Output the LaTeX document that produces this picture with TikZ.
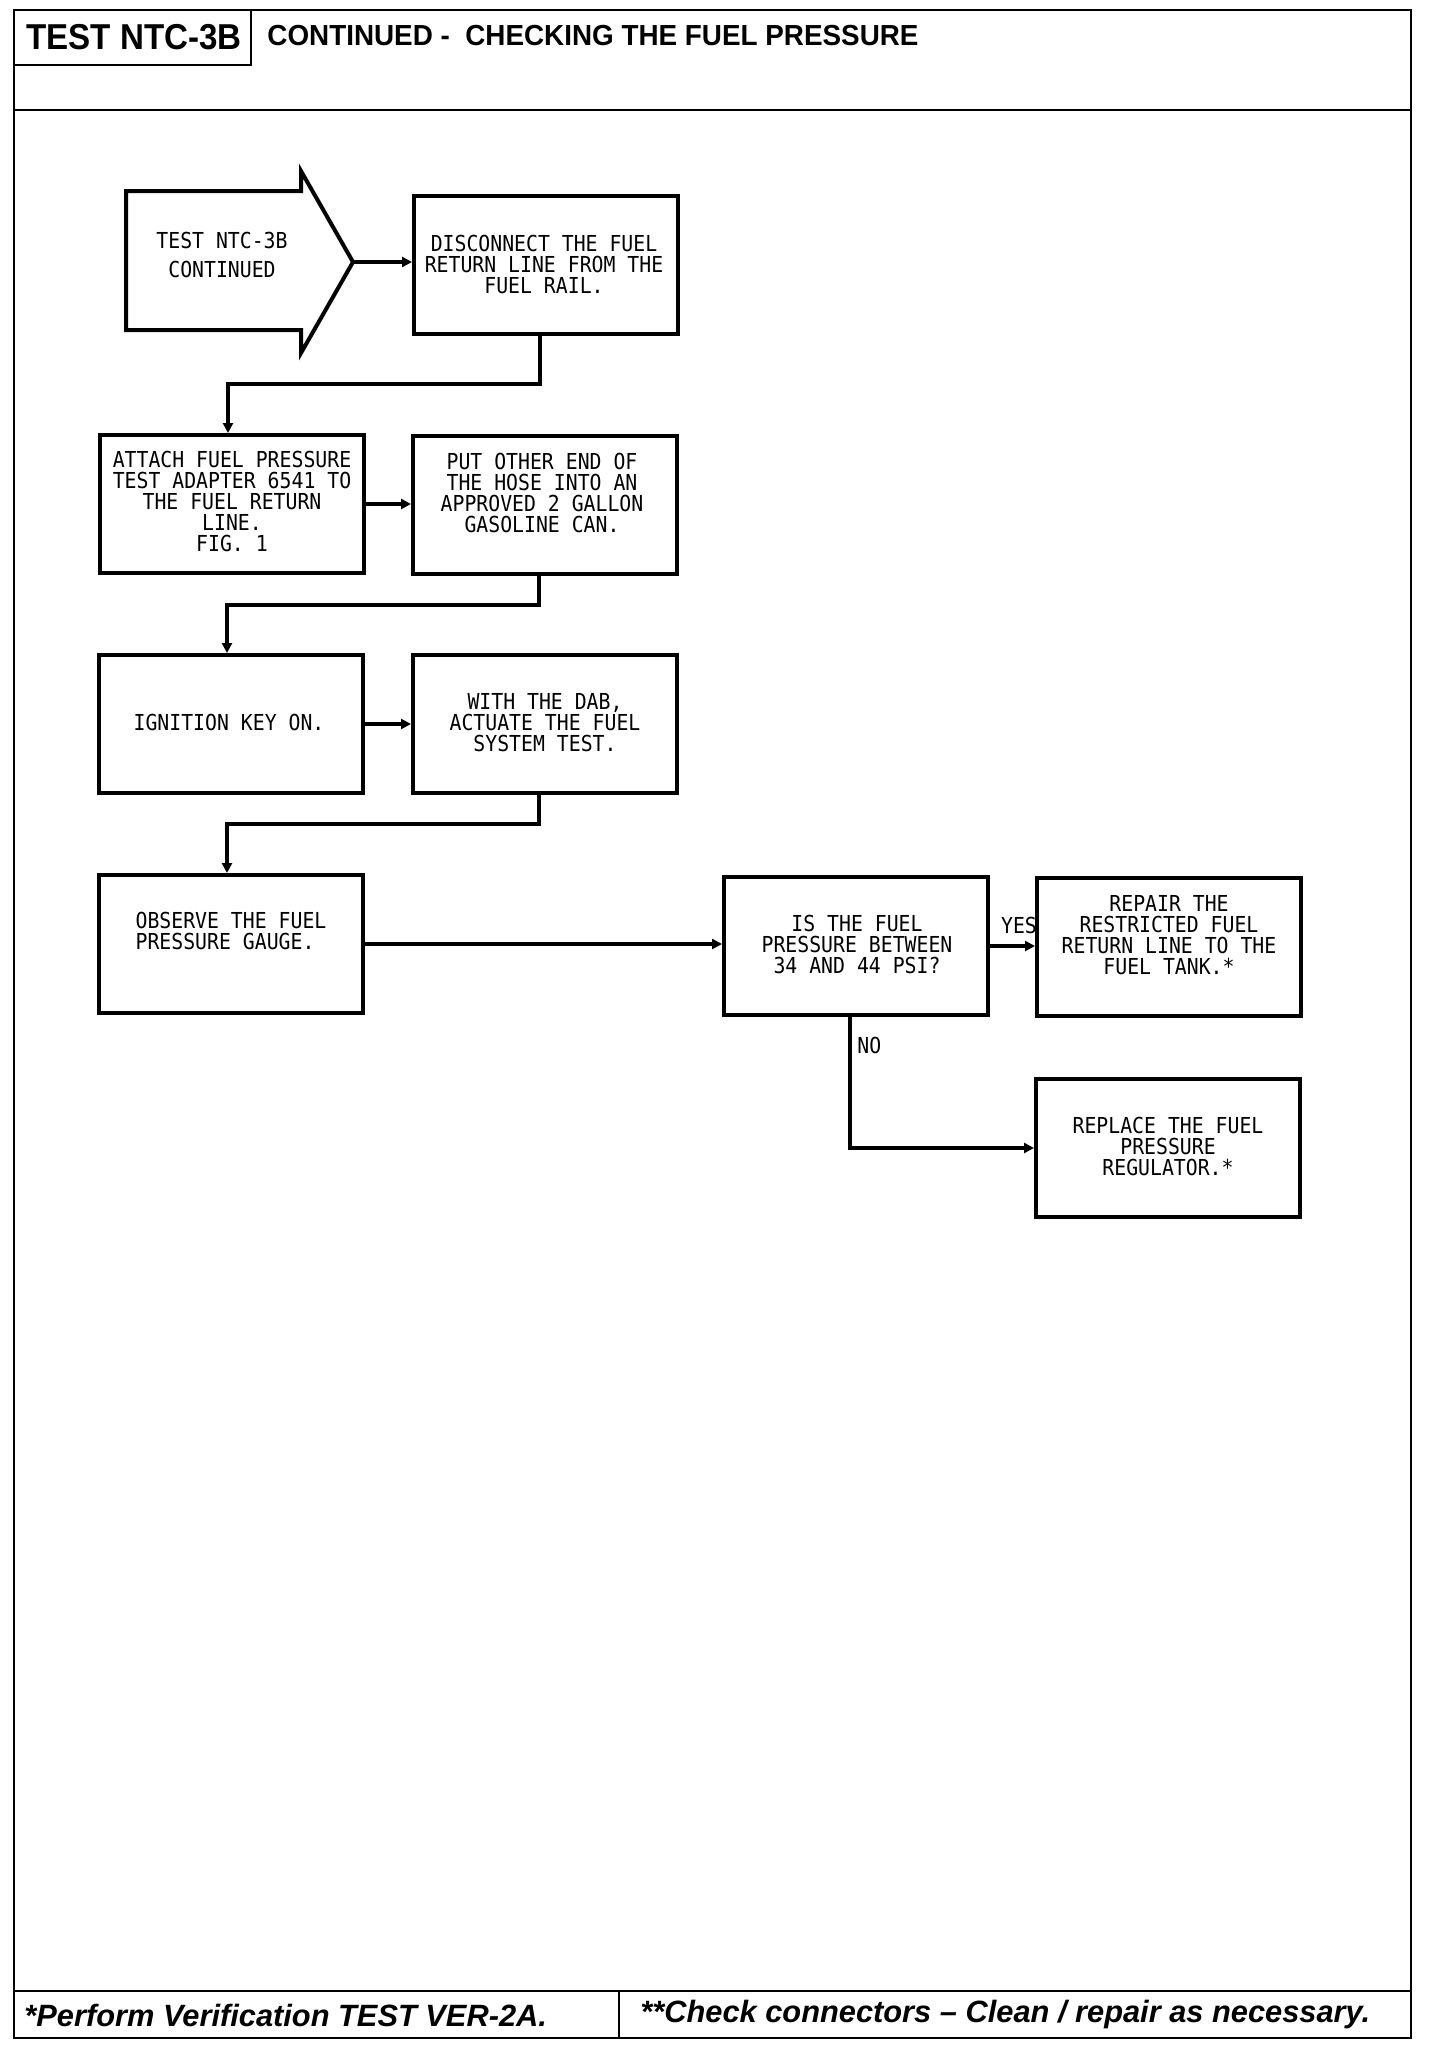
\documentclass[tikz,border=0pt]{standalone}
\usepackage{fontspec}
\setmainfont{Liberation Sans}
\newfontfamily\plotfont[FakeStretch=0.9]{DejaVu Sans Mono}
\newfontfamily\hdrfont[FakeStretch=0.92]{Liberation Sans}
\newfontfamily\ttlfont[FakeStretch=0.96]{Liberation Sans}
\usetikzlibrary{arrows.meta}
\tikzset{
  boxst/.style={draw, line width=2pt, minimum width=132pt, minimum height=69pt, inner sep=0pt},
  conn/.style={line width=1.8pt, -{Triangle[length=5pt,width=5pt]}},
  txt/.style={font=\plotfont\fontsize{11pt}{10.5pt}\selectfont, align=center, inner sep=0pt},
  frame/.style={line width=1.4pt},
}
\begin{document}
\begin{tikzpicture}[x=0.5pt,y=-0.5pt]
\useasboundingbox (0,0) rectangle (1440,2050);
% frame
\draw[frame] (14,10) rectangle (1411,2038);
\draw[frame] (14,110) -- (1411,110);
\draw[frame] (14,65) -- (251,65) -- (251,10);
\draw[frame] (14,1991) -- (1411,1991);
\draw[frame] (619,1991) -- (619,2038);
\node[inner sep=0pt, font=\hdrfont\bfseries\fontsize{18pt}{18pt}\selectfont] (ttl1) at (134,37) {TEST NTC-3B};
\node[inner sep=0pt, anchor=west, font=\ttlfont\bfseries\fontsize{14.5pt}{14.5pt}\selectfont] (ttl2) at (267,36) {CONTINUED -\ \ CHECKING THE FUEL PRESSURE};
\node[inner sep=0pt, anchor=west, font=\bfseries\itshape\fontsize{15.4pt}{15.4pt}\selectfont] (ft1) at (24,2015) {*Perform Verification TEST VER-2A.};
\node[inner sep=0pt, anchor=west, font=\bfseries\itshape\fontsize{15.4pt}{15.4pt}\selectfont] (ft2) at (640,2015) {**Check connectors -- Clean / repair as necessary.};
% start arrow
\draw[line width=2pt, line join=miter] (126,191) -- (301,191) -- (301,171) -- (353,262) -- (301,353) -- (301,330) -- (126,330) -- cycle;
\coordinate (tip) at (353,262);
\node[txt, font=\plotfont\fontsize{11pt}{14.4pt}\selectfont] (start) at (222,255) {TEST NTC-3B\\CONTINUED};
% boxes
\node[boxst] (b1) at (546,265) {};
\node[boxst] (b2) at (232,504) {};
\node[boxst] (b3) at (545,505) {};
\node[boxst] (b4) at (231,724) {};
\node[boxst] (b5) at (545,724) {};
\node[boxst] (b6) at (231,944) {};
\node[boxst] (b7) at (856,946) {};
\node[boxst] (b8) at (1169,947) {};
\node[boxst] (b9) at (1168,1148) {};
% texts
\node[txt] (t1) at (544,264) {DISCONNECT THE FUEL\\RETURN LINE FROM THE\\FUEL RAIL.};
\node[txt] (t2) at (232,501) {ATTACH FUEL PRESSURE\\TEST ADAPTER 6541 TO\\THE FUEL RETURN\\LINE.\\FIG. 1};
\node[txt] (t3) at (542,493) {PUT OTHER END OF\\THE HOSE INTO AN\\APPROVED 2 GALLON\\GASOLINE CAN.};
\node[txt] (t4) at (229,722) {IGNITION KEY ON.};
\node[txt] (t5) at (545,723) {WITH THE DAB,\\ACTUATE THE FUEL\\SYSTEM TEST.};
\node[txt, align=left] (t6) at (231,931) {OBSERVE THE FUEL\\PRESSURE GAUGE.};
\node[txt] (t7) at (857,944) {IS THE FUEL\\PRESSURE BETWEEN\\34 AND 44 PSI?};
\node[txt] (t8) at (1169,935) {REPAIR THE\\RESTRICTED FUEL\\RETURN LINE TO THE\\FUEL TANK.*};
\node[txt] (t9) at (1168,1146) {REPLACE THE FUEL\\PRESSURE\\REGULATOR.*};
\node[txt] (yes) at (1019,925) {YES};
\node[txt, anchor=west] (no) at (857,1045) {NO};
% connectors
\draw[conn] (tip) -- (tip -| b1.west);
\draw[conn] ([xshift=-3pt]b1.south) -- ++(0,48) -| ([xshift=-2pt]b2.north);
\draw[conn] (b2.east) -- (b2.east -| b3.west);
\draw[conn] ([xshift=-3pt]b3.south) -- ++(0,29) -| ([xshift=-2pt]b4.north);
\draw[conn] (b4.east) -- (b4.east -| b5.west);
\draw[conn] ([xshift=-3pt]b5.south) -- ++(0,29) -| ([xshift=-2pt]b6.north);
\draw[conn] (b6.east) -- (b6.east -| b7.west);
\draw[conn] (b7.east) -- (b7.east -| b8.west);
\draw[conn] ([xshift=-3pt]b7.south) |- (b9.west);
\end{tikzpicture}
\end{document}
